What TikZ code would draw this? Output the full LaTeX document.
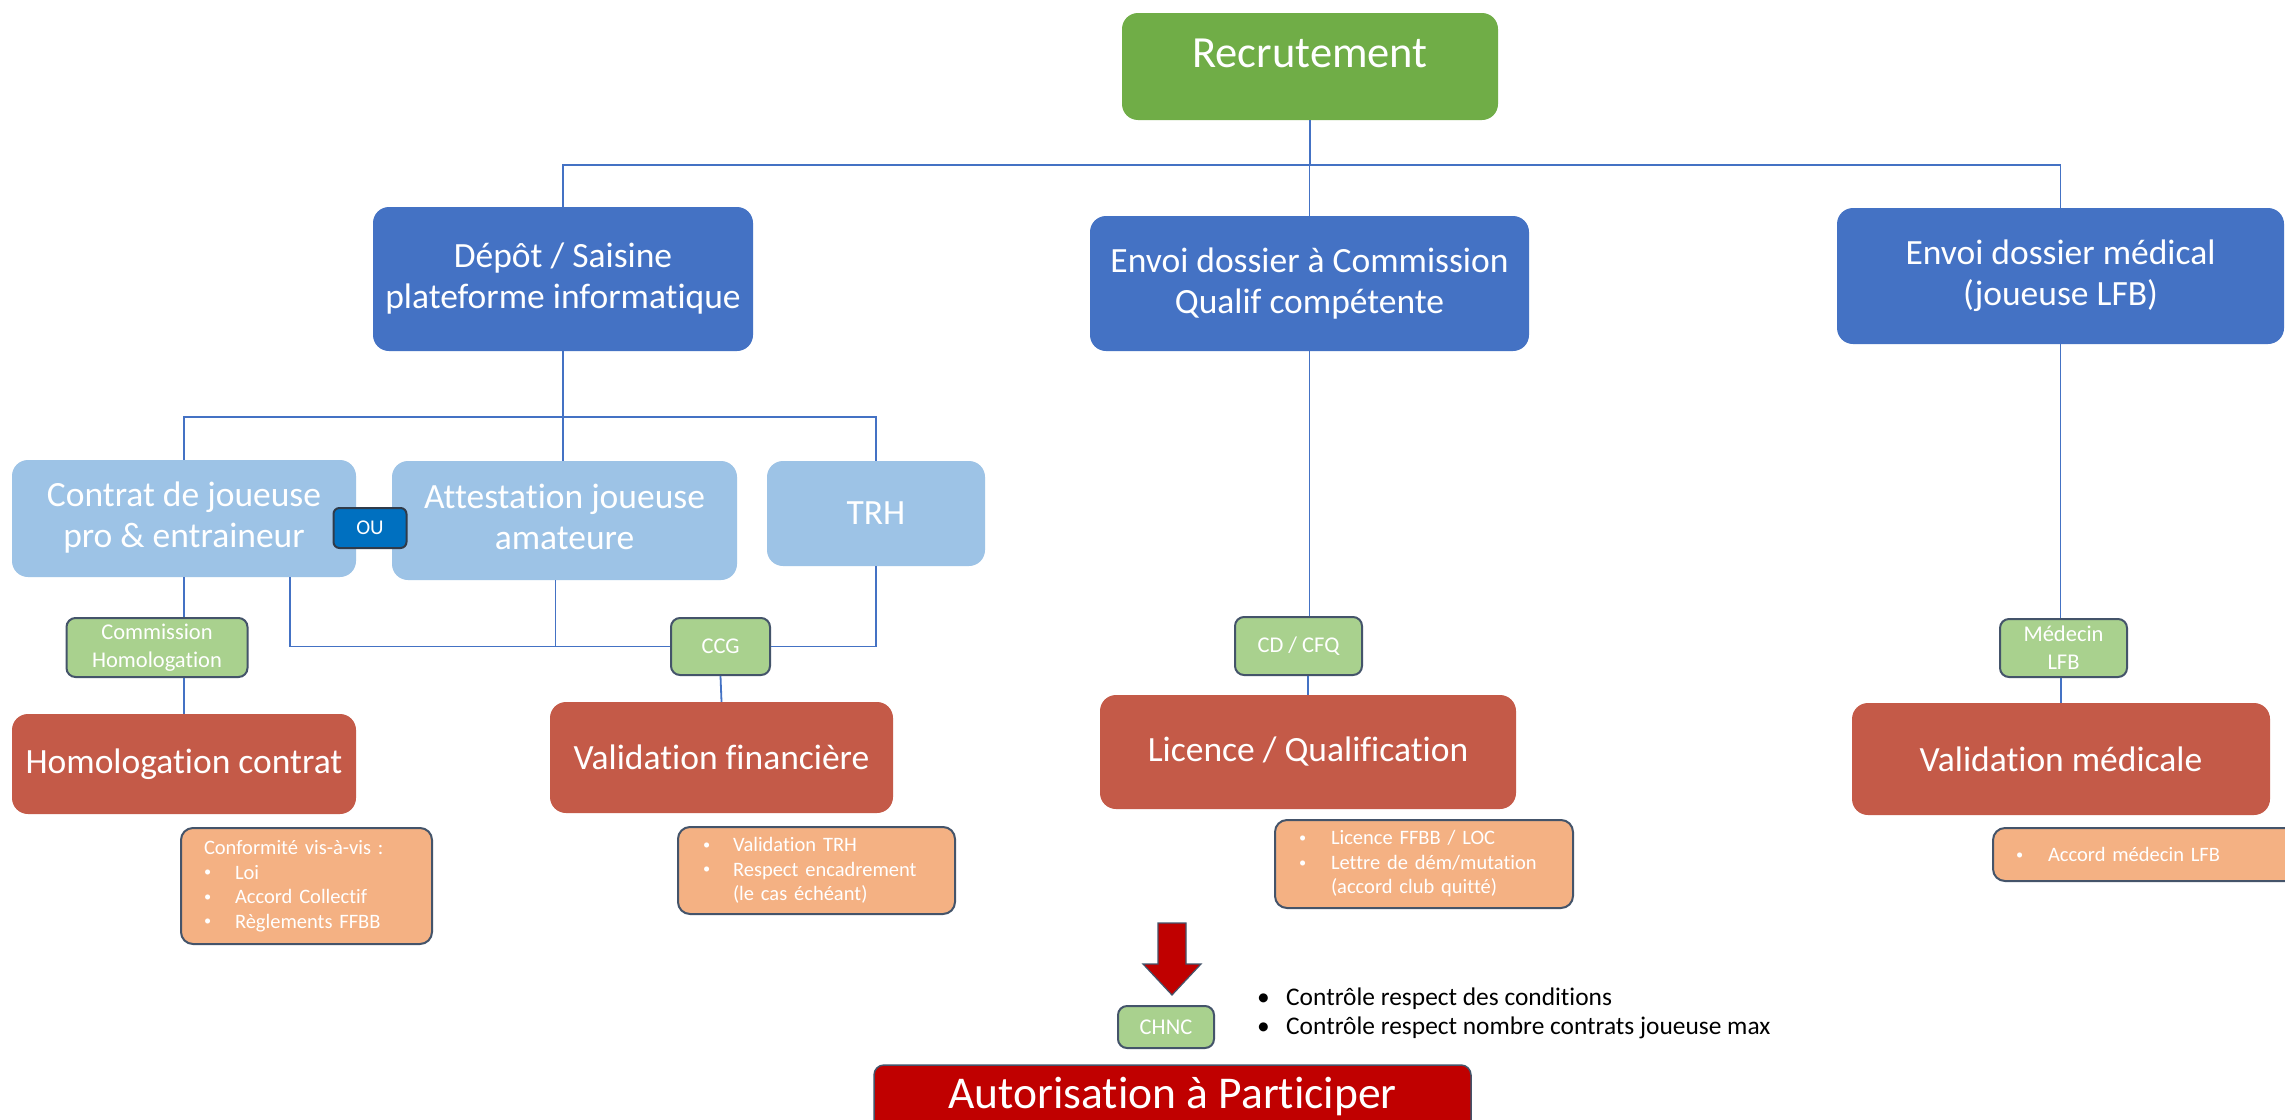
\documentclass[tikz,border=0pt]{standalone}
\usepackage{fontspec}
\setmainfont{Carlito}[Ligatures=NoCommon]
\definecolor{vert}{HTML}{70AD47}
\definecolor{bleu}{HTML}{4472C4}
\definecolor{bleuclair}{HTML}{9DC3E6}
\definecolor{bleuou}{HTML}{0070C0}
\definecolor{vertclair}{HTML}{A9D18E}
\definecolor{rouge}{HTML}{C45A48}
\definecolor{saumon}{HTML}{F4B183}
\definecolor{rougefonce}{HTML}{C00000}
\definecolor{ardoise}{HTML}{44546A}
\newcommand{\puce}[1]{\makebox[#1][l]{\raisebox{0.12em}{\scalebox{0.7}{\textbullet}}}}
\newcommand{\gpuce}[1]{\makebox[#1][l]{\textbullet}}
\begin{document}
\begin{tikzpicture}[x=1pt,y=-1pt]
\tikzstyle{boite}=[rounded corners=16pt,text=white,align=center,inner sep=0pt]
\tikzstyle{bleue}=[boite,fill=bleu,font=\fontsize{35.5}{41}\selectfont]
\tikzstyle{claire}=[boite,fill=bleuclair,font=\fontsize{35.5}{41}\selectfont]
\tikzstyle{rouge}=[boite,fill=rouge,font=\fontsize{35.5}{41}\selectfont]
\tikzstyle{comm}=[boite,rounded corners=9pt,fill=vertclair,draw=ardoise,line width=2pt,font=\fontsize{22.5}{28}\selectfont]
\tikzstyle{note}=[boite,rounded corners=12pt,fill=saumon,draw=ardoise,line width=2pt,align=left,font=\fontsize{20.5}{24.5}\selectfont]
\tikzstyle{lien}=[draw=bleu,line width=1.8pt]
\useasboundingbox (0,0) rectangle (2285,1119);
\clip (0,0) rectangle (2285,1119);
\fill[white] (0,0) rectangle (2285,1119);
% niveau 1
\node[boite,fill=vert,minimum width=376pt,minimum height=107pt,text height=28pt,text depth=27pt,font=\fontsize{44.5}{53}\selectfont] (rec) at (1310,66.5) {Recrutement};
% niveau 2
\node[bleue,minimum width=380pt,minimum height=144pt] (dep) at (563,279) {Dépôt / Saisine\\plateforme informatique};
\node[bleue,minimum width=439pt,minimum height=135pt] (com) at (1309.5,283.5) {Envoi dossier à Commission\\Qualif compétente};
\node[bleue,minimum width=447pt,minimum height=136pt] (med) at (2060.5,276) {Envoi dossier médical\\(joueuse LFB)};
% pieces
\node[claire,minimum width=344pt,minimum height=117pt] (con) at (184,518.5) {\raisebox{9pt}{\begin{tabular}{@{}c@{}}Contrat de joueuse\\pro \& entraineur\end{tabular}}};
\node[claire,minimum width=345pt,minimum height=119pt] (att) at (564.5,520.5) {\raisebox{10pt}{\begin{tabular}{@{}c@{}}Attestation joueuse\\amateure\end{tabular}}};
\node[claire,minimum width=218pt,minimum height=105pt] (trh) at (876,513.5) {TRH};
\node[boite,rounded corners=6pt,fill=bleuou,draw=ardoise!70!black,line width=2pt,minimum width=73pt,minimum height=40pt,font=\fontsize{21}{25}\selectfont] (ou) at (370,528) {OU};
% commissions
\node[comm,minimum width=181pt,minimum height=59pt] (chom) at (157,647.5) {Commission\\Homologation};
\node[comm,minimum width=99pt,minimum height=57pt] (ccg) at (720.5,646.5) {CCG};
\node[comm,minimum width=127pt,minimum height=58pt] (cd) at (1298.5,646) {CD / CFQ};
\node[comm,minimum width=127pt,minimum height=58pt] (mlfb) at (2063.5,648) {Médecin\\LFB};
% validations
\node[rouge,minimum width=344pt,minimum height=100pt] (homc) at (184,764) {Homologation contrat};
\node[rouge,minimum width=343pt,minimum height=111pt] (valf) at (721.5,757.5) {Validation financière};
\node[rouge,minimum width=416pt,minimum height=114pt] (lic) at (1308,752) {Licence / Qualification};
\node[rouge,minimum width=418pt,minimum height=112pt] (valm) at (2061,759) {Validation médicale};
% details
\node[note,text width=205pt,inner xsep=23pt,minimum height=116pt] (conf) at (306.5,886) {Conformité vis-à-vis :\\\puce{31pt}Loi\\\puce{31pt}Accord Collectif\\\puce{31pt}Règlements FFBB};
\node[note,text width=227pt,inner xsep=25pt,minimum height=87pt] (vtrh) at (816.5,870.5) {\puce{30pt}Validation TRH\\\puce{30pt}Respect encadrement\\\hspace*{30pt}(le cas échéant)};
\node[note,text width=250pt,inner xsep=24pt,minimum height=88pt] (licf) at (1424,864) {\puce{32pt}Licence FFBB / LOC\\\puce{32pt}Lettre de dém/mutation\\\hspace*{32pt}(accord club quitté)};
\node[note,text width=294pt,inner xsep=23pt,minimum height=53pt] (acc) at (2163,854.5) {\puce{32pt}Accord médecin LFB};
% controle final
\draw[fill=rougefonce,draw=ardoise,line width=1.2pt] (1158,923) -- (1186,923) -- (1186,964) -- (1201,964) -- (1172,995) -- (1143,964) -- (1158,964) -- cycle;
\node[comm,minimum width=96pt,minimum height=42pt] (chnc) at (1166,1027) {CHNC};
\node[anchor=west,inner sep=0pt,align=left,font=\fontsize{25.4}{29}\selectfont] (ctrl) at (1257,1013.5) {\gpuce{29pt}Contrôle respect des conditions\\\gpuce{29pt}Contrôle respect nombre contrats joueuse max};
\node[boite,rounded corners=10pt,fill=rougefonce,draw=ardoise,line width=1.5pt,minimum width=597pt,minimum height=65pt,text height=30pt,text depth=9pt,font=\fontsize{45.5}{54}\selectfont] (aut) at (1172.5,1097.5) {Autorisation à Participer};
% liens
\foreach \n in {dep,com,med}
	\draw[lien] (rec.south) -- ++(0,45) -| (\n.north);
\foreach \n in {con,trh}
	\draw[lien] (dep.south) -- ++(0,66) -| (\n.north);
\draw[lien] (dep.south) -- (dep.south |- att.north);
\draw[lien] (con.south) -- (con.south |- chom.north);
\draw[lien] (chom.south -| homc.north) -- (homc.north);
\draw[lien] ([xshift=106pt]con.south) |- (ccg.west);
\draw[lien] ([xshift=-9pt]att.south) -- ([xshift=-9pt]att.south |- ccg.west);
\draw[lien] (trh.south) |- (ccg.east);
\draw[lien] (ccg.south) -- (valf.north);
\draw[lien] (com.south) -- (com.south |- cd.north);
\draw[lien] (cd.south -| lic.north) -- (lic.north);
\draw[lien] (med.south) -- (med.south |- mlfb.north);
\draw[lien] (mlfb.south -| valm.north) -- (valm.north);
\end{tikzpicture}
\end{document}
